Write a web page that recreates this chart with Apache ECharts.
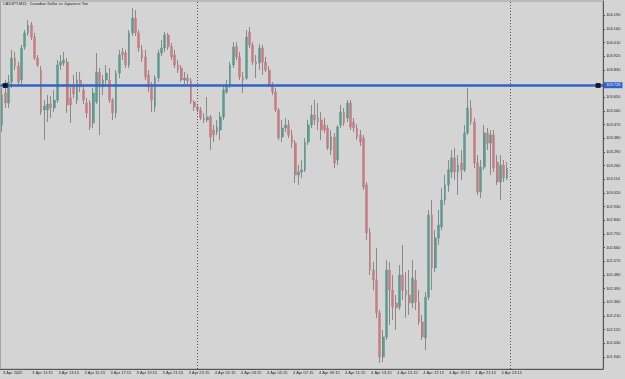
<!doctype html>
<html lang="en">
<head>
    <meta charset="utf-8" />
    <title>CADJPY M15</title>
    <script type="text/javascript" src="https://cdn.jsdelivr.net/npm/echarts@6/dist/echarts.min.js"></script>
</head>
<style type="text/css">
    html, body { margin: 0; padding: 0; background: #d4d4d4; }
    #chart { width: 625px; height: 379px; }
</style>
<body>
<div id="chart"></div>
<script>
    // OHLC of the 15 minute bars, 3 Apr 09:00 .. 4 Apr 23:45
    var openVals = [
        103.468,103.679,103.613,103.751,103.909,103.856,103.764,103.982,104.074,104.126,
        104.047,103.909,103.830,103.567,103.567,103.606,103.580,103.632,103.863,103.876,
        103.883,103.646,103.725,103.632,103.764,103.698,103.613,103.613,103.481,103.619,
        103.817,103.718,103.764,103.764,103.632,103.547,103.810,103.949,103.942,103.863,
        104.074,104.172,104.074,103.962,103.916,103.797,103.718,103.586,103.777,103.942,
        103.975,104.061,103.982,103.929,103.863,103.843,103.764,103.777,103.758,103.619,
        103.586,103.567,103.514,103.501,103.521,103.435,103.422,103.435,103.521,103.685,
        103.731,103.863,103.982,103.916,103.784,103.777,104.080,103.995,103.883,103.876,
        103.975,103.883,103.830,103.731,103.685,103.567,103.389,103.448,103.468,103.402,
        103.349,103.139,103.158,103.172,103.356,103.468,103.534,103.514,103.501,103.468,
        103.448,103.303,103.389,103.237,103.468,103.553,103.514,103.613,103.488,103.448,
        103.402,103.382,103.073,102.757,102.513,102.447,102.230,101.940,102.072,102.513,
        102.381,102.296,102.269,102.480,102.381,102.348,102.296,102.447,102.302,102.171,
        102.065,102.335,102.875,102.526,102.724,102.796,102.974,103.073,103.158,103.251,
        103.158,103.218,103.172,103.415,103.580,103.488,103.218,103.027,103.191,103.415,
        103.349,103.402,103.224,103.093,103.204,103.119
    ];
    var closeVals = [
        103.665,103.613,103.751,103.909,103.856,103.751,103.975,104.074,104.126,104.047,
        103.909,103.863,103.553,103.593,103.606,103.580,103.632,103.863,103.883,103.896,
        103.600,103.600,103.672,103.764,103.718,103.632,103.547,103.455,103.679,103.817,
        103.718,103.764,103.810,103.632,103.547,103.810,103.929,103.929,103.863,104.074,
        104.172,104.074,103.975,103.909,103.784,103.718,103.632,103.777,103.942,103.975,
        104.061,103.982,103.916,103.863,103.830,103.764,103.777,103.758,103.619,103.586,
        103.567,103.514,103.501,103.521,103.389,103.402,103.455,103.521,103.698,103.731,
        103.863,103.982,103.916,103.784,103.764,104.047,103.995,103.883,103.870,103.975,
        103.883,103.830,103.731,103.685,103.567,103.382,103.448,103.468,103.402,103.349,
        103.139,103.158,103.172,103.356,103.468,103.534,103.501,103.488,103.435,103.435,
        103.316,103.389,103.218,103.455,103.553,103.481,103.613,103.455,103.448,103.389,
        103.356,103.060,102.757,102.513,102.447,102.230,101.940,102.072,102.513,102.381,
        102.269,102.263,102.480,102.381,102.348,102.296,102.460,102.302,102.171,102.072,
        102.335,102.875,102.526,102.724,102.809,102.974,103.073,103.172,103.251,103.158,
        103.204,103.172,103.415,103.580,103.488,103.218,103.027,103.191,103.415,103.349,
        103.402,103.185,103.093,103.204,103.119,103.185
    ];
    var lowVals = [
        103.422,103.580,103.580,103.712,103.830,103.731,103.738,103.962,104.054,104.028,
        103.896,103.850,103.534,103.369,103.488,103.514,103.553,103.613,103.830,103.856,
        103.547,103.481,103.646,103.606,103.685,103.606,103.514,103.435,103.448,103.606,
        103.402,103.665,103.731,103.613,103.501,103.514,103.777,103.896,103.843,103.843,
        104.054,104.054,103.949,103.883,103.764,103.685,103.553,103.553,103.751,103.922,
        103.949,103.962,103.896,103.843,103.810,103.751,103.738,103.738,103.606,103.560,
        103.553,103.501,103.481,103.488,103.303,103.356,103.402,103.369,103.501,103.672,
        103.712,103.843,103.896,103.764,103.679,103.764,103.975,103.863,103.777,103.830,
        103.797,103.817,103.718,103.665,103.553,103.369,103.356,103.422,103.382,103.316,
        103.086,103.073,103.119,103.158,103.336,103.448,103.468,103.435,103.369,103.415,
        103.303,103.270,103.185,103.204,103.448,103.461,103.488,103.435,103.422,103.369,
        103.330,103.040,102.711,102.480,102.381,102.197,101.901,101.907,102.052,102.151,
        102.184,102.118,102.250,102.315,102.197,102.217,102.263,102.250,102.151,102.052,
        101.986,102.315,102.381,102.500,102.678,102.776,102.941,103.027,103.119,103.106,
        103.007,103.106,103.158,103.402,103.468,103.185,103.007,102.987,103.172,103.303,
        103.139,103.158,103.073,102.974,103.093,103.106
    ];
    var highVals = [
        103.712,103.764,103.797,103.962,103.949,103.883,103.995,104.093,104.159,104.146,
        104.074,103.929,103.856,103.632,103.665,103.659,103.698,103.896,103.929,103.949,
        103.909,103.731,103.797,103.817,103.817,103.731,103.646,103.632,103.712,103.942,
        103.843,103.797,103.863,103.843,103.646,103.830,103.962,103.975,103.962,104.093,
        104.238,104.225,104.093,103.995,103.962,103.830,103.751,103.797,103.962,104.028,
        104.080,104.074,104.008,103.962,103.896,103.863,103.817,103.804,103.777,103.632,
        103.606,103.586,103.547,103.652,103.534,103.468,103.501,103.553,103.731,103.764,
        103.883,104.014,104.014,103.949,103.817,104.093,104.113,104.014,103.929,104.001,
        103.995,103.916,103.856,103.751,103.712,103.580,103.501,103.514,103.501,103.435,
        103.369,103.204,103.237,103.382,103.501,103.600,103.632,103.613,103.553,103.514,
        103.468,103.435,103.415,103.468,103.600,103.580,103.632,103.632,103.514,103.474,
        103.435,103.402,103.093,102.790,102.566,102.658,102.250,102.118,102.579,102.566,
        102.480,102.348,102.546,102.678,102.500,102.513,102.579,102.513,102.381,102.217,
        102.368,102.908,102.974,102.776,102.908,103.053,103.139,103.237,103.303,103.316,
        103.270,103.303,103.468,103.712,103.632,103.514,103.270,103.237,103.468,103.448,
        103.435,103.435,103.270,103.270,103.237,103.224
    ];
    // price axis labels as printed on the right scale
    var priceTicks = [101.940,102.030,102.120,102.210,102.300,102.390,102.480,102.570,102.660,
        102.750,102.840,102.930,103.020,103.110,103.200,103.290,103.380,103.470,103.560,103.650,
        103.830,103.920,104.010,104.100,104.190];
    var lineLevel = 103.728;
    var chartTitle = 'CADJPY,M15:  Canadian Dollar vs Japanese Yen';

    var slots = 185;   // bar slots across the window (empty ones on the right)
    var months = ['Jan','Feb','Mar','Apr','May','Jun','Jul','Aug','Sep','Oct','Nov','Dec'];

    function pad(n) {
        return n < 10 ? '0' + n : '' + n;
    }

    function makeTimes() {
        var times = [];
        for (var i = 0; i < slots; i++) {
            var m = 9 * 60 + i * 15;
            var day = 3 + Math.floor(m / 1440);
            m = m % 1440;
            times.push(day + ' ' + months[3] + ' ' + pad(Math.floor(m / 60)) + ':' + pad(m % 60));
        }
        return times;
    }

    function showLabel(index) {
        if (index === 0) return true;
        return index >= 9 && index < openVals.length && (index - 9) % 8 === 0;
    }

    var times = makeTimes();
    var wickData = [];
    var bodyData = [];
    for (var i = 0; i < openVals.length; i++) {
        wickData.push([openVals[i], closeVals[i], lowVals[i], highVals[i]]);
        bodyData.push([openVals[i], closeVals[i],
            Math.min(openVals[i], closeVals[i]), Math.max(openVals[i], closeVals[i])]);
    }

    var txt = '#2a2a2a';
    var font = 'Liberation Sans';

    var option = {
        backgroundColor: '#d4d4d4',
        animation: false,
        title: {
            text: chartTitle,
            left: 3, top: 2,
            padding: 0,
            textStyle: { fontSize: 3.9, fontWeight: 'normal', color: txt, fontFamily: font }
        },
        grid: {
            left: 0, right: 22, top: 1, bottom: 10,
            show: true, borderColor: '#a0a0a0', borderWidth: 1
        },
        xAxis: {
            type: 'category',
            data: times,
            boundaryGap: true,
            axisLine: { lineStyle: { color: '#555', width: 1 } },
            axisTick: { interval: showLabel, alignWithLabel: true, length: 4, lineStyle: { color: '#555' } },
            axisLabel: {
                interval: showLabel,
                align: 'left',
                margin: 2,
                padding: [0, 0, 0, 1],
                fontSize: 4,
                color: txt,
                fontFamily: font,
                formatter: function (v, idx) {
                    return idx === 0 ? '3 Apr 2025' : v;
                }
            },
            splitLine: { show: false }
        },
        yAxis: {
            type: 'value',
            position: 'right',
            min: 101.8611,
            max: 104.2844,
            axisLine: { show: true, lineStyle: { color: '#555', width: 1 } },
            axisTick: { show: true, customValues: priceTicks, length: 2, lineStyle: { color: '#555' } },
            axisLabel: {
                customValues: priceTicks,
                margin: 3,
                fontSize: 4,
                color: txt,
                fontFamily: font,
                formatter: function (v) { return v.toFixed(3); }
            },
            splitLine: { show: false }
        },
        series: [
            {
                name: 'wicks',
                type: 'candlestick',
                data: wickData,
                barWidth: 1,
                itemStyle: {
                    color: '#8a8a8a', color0: '#8a8a8a',
                    borderColor: '#8a8a8a', borderColor0: '#8a8a8a', borderWidth: 1
                },
                silent: true
            },
            {
                name: 'bodies',
                type: 'candlestick',
                data: bodyData,
                barWidth: 2.3,
                itemStyle: {
                    color: '#5b9a8e', color0: '#c67c80',
                    borderColor: '#5b9a8e', borderColor0: '#c67c80', borderWidth: 0.5
                },
                silent: true,
                markLine: {
                    silent: true,
                    symbol: ['none', 'none'],
                    animation: false,
                    data: [
                        {
                            yAxis: lineLevel,
                            lineStyle: { color: '#2f63c6', width: 2.5, type: 'solid' },
                            label: {
                                show: true, position: 'end', distance: 1,
                                formatter: lineLevel.toFixed(3),
                                backgroundColor: '#2f63c6', color: '#e8eefa',
                                fontSize: 4, fontFamily: font, padding: [1, 2]
                            }
                        },
                        {
                            xAxis: times[60],
                            lineStyle: { color: '#555', width: 1, type: [1, 2] },
                            label: { show: false }
                        },
                        {
                            xAxis: times[156],
                            lineStyle: { color: '#555', width: 1, type: [1, 2] },
                            label: { show: false }
                        }
                    ]
                }
            },
            {
                name: 'handles',
                type: 'scatter',
                symbol: 'rect',
                symbolSize: 5,
                itemStyle: { color: '#000' },
                data: [[1, lineLevel], [183, lineLevel]],
                silent: true,
                z: 5
            }
        ]
    };

    var chart = echarts.init(document.getElementById('chart'));
    chart.setOption(option);
</script>
</body>
</html>
